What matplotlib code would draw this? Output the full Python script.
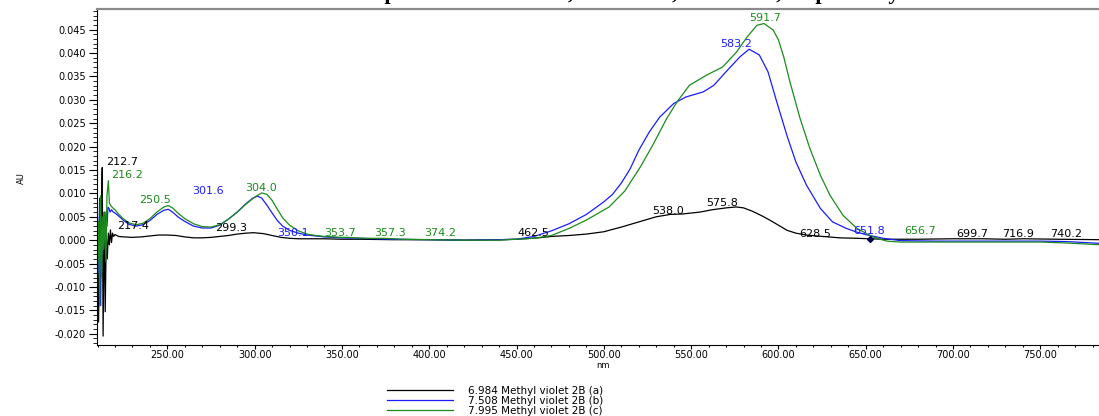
import matplotlib
matplotlib.use("Agg")
import matplotlib.pyplot as plt
from matplotlib.ticker import MultipleLocator, FormatStrFormatter

matplotlib.rcParams["font.family"] = "DejaVu Sans"
matplotlib.rcParams["lines.linewidth"] = 0.9

# spectrum (a), black
nm_a = [210, 210.6, 211.2, 211.8, 212.4, 212.7, 213.2, 213.8, 214.4, 215.0, 215.6,
        216.2, 216.8, 217.4, 218.0, 218.6, 219.2, 220, 222, 225, 230, 235, 240, 245,
        250, 255, 260, 265, 270, 275, 280, 285, 290, 295, 299.3, 305, 310, 315, 320,
        325, 330, 340, 350, 360, 380, 400, 420, 440, 450, 462.5, 470, 480, 490, 500,
        510, 520, 530, 538, 545, 550, 555, 562, 570, 575.8, 580, 585, 590, 595, 600,
        605, 610, 616, 622, 628.5, 635, 645, 652, 660, 680, 699.7, 716.9, 730, 740.2,
        760, 785]
au_a = [0.002, -0.0175, 0.003, -0.008, 0.010, 0.0155, -0.0205, 0.006, -0.0153, 0.001,
        -0.004, 0.0015, -0.001, 0.0022, -0.0005, 0.0015, 0.0008, 0.0012, 0.0008, 0.0007,
        0.0006, 0.0007, 0.0009, 0.0011, 0.0011, 0.001, 0.0007, 0.0005, 0.0005, 0.0006,
        0.0008, 0.001, 0.0013, 0.0015, 0.0016, 0.0014, 0.001, 0.0006, 0.0004, 0.0003,
        0.0003, 0.0003, 0.0002, 0.0002, 0.0001, 0.0001, 0.0, 0.0001, 0.0002, 0.0005,
        0.0008, 0.001, 0.0013, 0.0018, 0.0028, 0.0039, 0.005, 0.0055, 0.0056, 0.0058,
        0.006, 0.0065, 0.0069, 0.0071, 0.0069, 0.0062, 0.0053, 0.0043, 0.0032, 0.0021,
        0.0015, 0.0011, 0.0009, 0.0007, 0.0005, 0.0004, 0.0003, 0.0002, 0.0002, 0.0003,
        0.0003, 0.0002, 0.0003, 0.0002, 0.0001]

# spectrum (b), blue
nm_b = [210, 210.6, 211.2, 211.8, 212.4, 213.0, 213.6, 214.2, 214.8, 215.4, 216.0,
        216.6, 217.2, 218, 219, 220, 222, 225, 228, 232, 236, 240, 244, 248, 250.5,
        253, 256, 260, 265, 270, 275, 280, 285, 290, 295, 299, 301.6, 304, 307, 310,
        313, 316, 320, 325, 330, 335, 340, 350, 360, 370, 380, 400, 420, 440, 450,
        460, 470, 480, 490, 500, 505, 510, 515, 520, 526, 532, 540, 547, 557, 563,
        570, 578, 583.2, 589, 594, 599, 605, 610, 616, 624, 631, 639, 645, 651, 660,
        670, 690, 720, 750, 765, 775, 785]
au_b = [0.005, -0.007, 0.009, -0.014, 0.005, -0.003, 0.004, 0.0, 0.006, 0.003, 0.007,
        0.0068, 0.006, 0.0065, 0.006, 0.0058, 0.0052, 0.0042, 0.0034, 0.003, 0.0033,
        0.0042, 0.0055, 0.0064, 0.0066, 0.006, 0.005, 0.004, 0.003, 0.0026, 0.0026,
        0.0032, 0.0045, 0.006, 0.0078, 0.009, 0.0094, 0.009, 0.0075, 0.0058, 0.0042,
        0.003, 0.0021, 0.0015, 0.0011, 0.0009, 0.0007, 0.0005, 0.0004, 0.0003, 0.0002,
        0.0001, 0.0, 0.0001, 0.0002, 0.0008, 0.002, 0.0035, 0.0055, 0.0082, 0.0098,
        0.0122, 0.0152, 0.0192, 0.0231, 0.0263, 0.0292, 0.0306, 0.0317, 0.0331, 0.036,
        0.0392, 0.0408, 0.0396, 0.036, 0.0296, 0.0222, 0.0167, 0.0118, 0.0068, 0.0039,
        0.0025, 0.0017, 0.0011, 0.0004, -0.0001, -0.0002, -0.0002, -0.0002, -0.0003,
        -0.0005, -0.0007]

# spectrum (c), green
nm_c = [210, 210.6, 211.2, 211.8, 212.4, 213.0, 213.6, 214.2, 214.8, 215.4, 216.2,
        216.8, 217.4, 218, 219, 220, 222, 225, 228, 232, 236, 240, 244, 248, 250.5,
        253, 256, 260, 265, 270, 275, 280, 285, 290, 295, 300, 304, 307, 310, 313,
        316, 320, 325, 330, 335, 340, 350, 353.7, 357.3, 365, 374.2, 385, 400, 420,
        440, 460, 470, 480, 490, 503, 512, 521, 528, 536, 542, 549, 559, 568, 576,
        582, 587.6, 591.7, 597, 600, 603, 606.6, 612.4, 618, 624, 629.5, 637, 645,
        654, 662, 670, 690, 720, 750, 765, 775, 785]
au_c = [-0.005, 0.004, -0.014, 0.0095, -0.007, 0.005, -0.002, 0.006, -0.0046, 0.0095,
        0.0127, 0.008, 0.0075, 0.0072, 0.0068, 0.0065, 0.0056, 0.0045, 0.0037, 0.0033,
        0.0036, 0.0046, 0.006, 0.0071, 0.0074, 0.0069, 0.0058, 0.0046, 0.0035, 0.0029,
        0.0028, 0.0033, 0.0045, 0.006, 0.0077, 0.0092, 0.0101, 0.0098, 0.0085, 0.0066,
        0.0048, 0.0032, 0.002, 0.0013, 0.001, 0.0008, 0.0006, 0.0006, 0.0005, 0.0004,
        0.0004, 0.0002, 0.0001, 0.0, 0.0, 0.0004, 0.001, 0.0025, 0.0043, 0.0071, 0.0105,
        0.0157, 0.0203, 0.026, 0.0296, 0.0331, 0.0353, 0.037, 0.0402, 0.0434, 0.0459,
        0.0463, 0.0449, 0.0428, 0.0392, 0.0338, 0.026, 0.0196, 0.0139, 0.0096, 0.0053,
        0.0025, 0.0007, -0.0002, -0.0004, -0.0004, -0.0004, -0.0004, -0.0006, -0.0008,
        -0.001]

names = ["6.984 Methyl violet 2B (a)", "7.508 Methyl violet 2B (b)",
         "7.995 Methyl violet 2B (c)"]
colors = ["#000000", "#1c1cff", "#1b8c1b"]

# peak labels: (text, x nm, y AU, series index)
peak_labels = [
    ("212.7", 224.1, 0.0168, 0), ("217.4", 230.6, 0.0030, 0),
    ("299.3", 286.3, 0.0027, 0), ("462.5", 459.5, 0.0015, 0),
    ("538.0", 537.0, 0.0062, 0), ("575.8", 567.5, 0.0080, 0),
    ("628.5", 621.0, 0.0013, 0), ("699.7", 711.0, 0.0014, 0),
    ("716.9", 737.0, 0.0014, 0), ("740.2", 764.7, 0.0014, 0),
    ("301.6", 273.2, 0.0105, 1), ("350.1", 322.0, 0.0016, 1),
    ("583.2", 575.7, 0.0419, 1), ("651.8", 652.2, 0.0019, 1),
    ("216.2", 226.9, 0.0140, 2), ("250.5", 243.0, 0.0085, 2),
    ("304.0", 303.4, 0.0112, 2), ("353.7", 349.2, 0.0016, 2),
    ("357.3", 377.3, 0.0016, 2), ("374.2", 406.2, 0.0016, 2),
    ("591.7", 592.3, 0.0474, 2), ("656.7", 681.1, 0.0019, 2),
]

fig = plt.figure(figsize=(10.99, 4.16), dpi=100)
ax = fig.add_axes([97 / 1099, 1 - 345 / 416, 1 - 97 / 1099, (345 - 9) / 416])

lines = []
for x, y, c, n in zip([nm_a, nm_b, nm_c], [au_a, au_b, au_c], colors, names):
    ln, = ax.plot(x, y, color=c, label=n)
    lines.append(ln)
ax.plot([652.5], [0.0002], "D", color="#000050", ms=3)

for txt, x, y, i in peak_labels:
    ax.text(x, y, txt, color=colors[i], fontsize=8, ha="center", va="center",
            clip_on=False)

ax.set_xlim(209.7, 783.6)
ax.set_ylim(-0.0224, 0.0494)
ax.xaxis.set_major_locator(MultipleLocator(50))
ax.xaxis.set_minor_locator(MultipleLocator(10))
ax.yaxis.set_major_locator(MultipleLocator(0.005))
ax.yaxis.set_minor_locator(MultipleLocator(0.001))
ax.xaxis.set_major_formatter(FormatStrFormatter("%.2f"))
ax.yaxis.set_major_formatter(FormatStrFormatter("%.3f"))
ax.tick_params(axis="y", which="major", length=6, width=0.8, pad=2, labelsize=7)
ax.tick_params(axis="y", which="minor", length=3, width=0.6)
ax.tick_params(axis="x", which="major", length=3, width=0.8, pad=0.5, labelsize=7)
ax.tick_params(axis="x", which="minor", length=1.5, width=0.8)
ax.spines["right"].set_visible(False)
ax.spines["top"].set_color("#8a8a8a")
ax.spines["top"].set_linewidth(1.6)
ax.spines["left"].set_linewidth(0.8)
ax.spines["bottom"].set_linewidth(0.8)

fig.text(21.7 / 1099, 1 - 178 / 416, "AU", rotation=90, fontsize=6,
         ha="center", va="center")
fig.text(603 / 1099, 1 - 365 / 416, "nm", fontsize=6, ha="center", va="center")

# title, mostly cut off by the top edge as in the original
fig.text(601 / 1099, 1 + 0.5 / 416,
         "UV-Vis spectra of 6.984 min, 7.508 min, 7.995 min, respectively",
         family="Liberation Serif", weight="bold", fontsize=16,
         ha="center", va="baseline")

fig.legend(lines, names, loc="upper left", bbox_to_anchor=(387 / 1099, 1 - 386 / 416),
           frameon=False, borderaxespad=0, borderpad=0, fontsize=7.5,
           handlelength=6.3, handletextpad=1.5, labelspacing=0.0)

fig.savefig("out.png", dpi=100)
